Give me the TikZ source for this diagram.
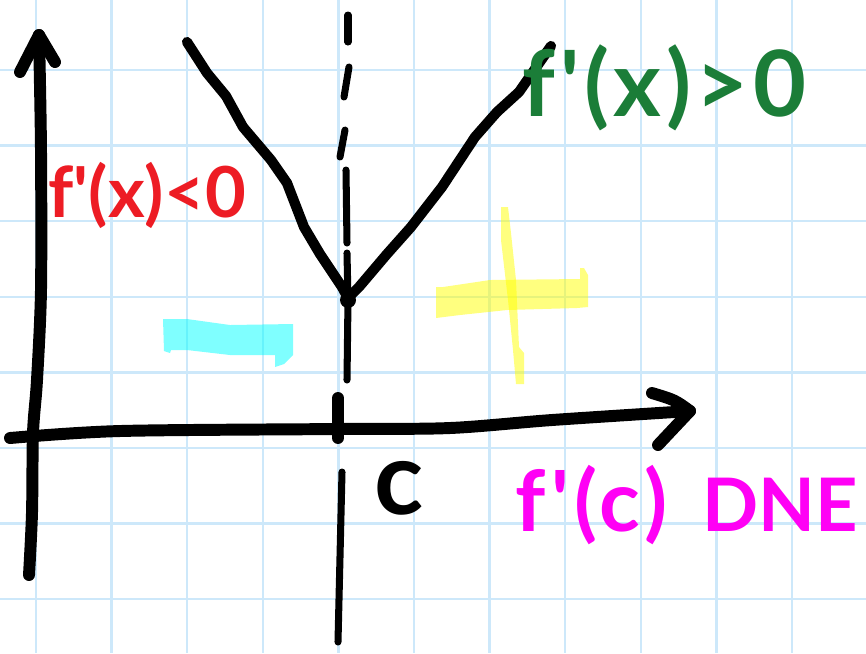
\documentclass[tikz,border=0pt]{standalone}
\usepackage{fontspec}
\usepackage{xcolor}
\usepackage{tikz}
\newfontfamily\handFont{Lato}
\definecolor{gridBlue}{HTML}{CDE8FA}
\definecolor{minusRed}{HTML}{ED1C24}
\definecolor{plusGreen}{HTML}{1B7D38}
\definecolor{dneMagenta}{HTML}{FF00F5}
\definecolor{hiCyan}{HTML}{00FFFF}
\definecolor{hiYellow}{HTML}{FFFF00}

\begin{document}
\begin{tikzpicture}[x=0.01cm, y=-0.01cm,
    gridline/.style={gridBlue, line width=0.7pt},
    pen/.style={line width=2.9pt, line cap=round, line join=round},
    axispen/.style={line width=3.4pt, line cap=round, line join=round},
    thinpen/.style={line width=2pt, line cap=round},
    marker/.style={fill opacity=0.5},
    hand/.style={inner sep=0pt, font=\handFont\bfseries}]
    \useasboundingbox[fill=white] (0,0) rectangle (866,653);
    \foreach \gx in {0,...,11}
        \draw[gridline] ({36+75.6*\gx},0) -- ({36+75.6*\gx},653);
    \foreach \gy in {0,...,7}
        \draw[gridline] (0,{70+75.6*\gy}) -- (866,{70+75.6*\gy});
    \fill[hiCyan, marker] (163,319) -- (187,319) -- (230,325) -- (293,324) -- (293,355)
        -- (284,364) -- (275,367) -- (275,355) -- (230,355) -- (187,350) -- (171,350)
        -- (170,353) -- (164,351) -- cycle;
    \fill[hiYellow, marker] (436,287) -- (443,287) -- (490,280) -- (580,279) -- (580,268)
        -- (584,268) -- (588,275) -- (588,307) -- (577,308) -- (507,310) -- (460,315)
        -- (436,318) -- cycle;
    \fill[hiYellow, marker] (501,207) -- (508,207) -- (511,233) -- (516,280) -- (519,347)
        -- (524,353) -- (524,384) -- (516,384) -- (513,350) -- (508,300) -- (501,240) -- cycle;
    \draw[axispen] plot[smooth, tension=0.5] coordinates
        {(29,575) (32,513) (33,433) (37,380) (41,290) (41,150) (39,35)};
    \draw[axispen] (20,72) -- (39,35) -- (55,62);
    \draw[axispen] plot[smooth, tension=0.5] coordinates
        {(10,438) (120,431) (339,429) (450,428) (552,420) (690,411)};
    \draw[axispen] (652,393) .. controls (675,400) .. (690,411) -- (658,445);
    \draw[pen] (187,42) -- (207,73) -- (226,96) -- (243,127) -- (271,160) -- (287,183)
        -- (304,227) -- (320,254) -- (342,287) -- (348,298);
    \draw[pen] (348,298) -- (359,287) -- (387,254) -- (411,227) -- (442,187) -- (475,137)
        -- (497,112) -- (519,92) -- (551,46);
    \fill (348,300) circle (8);
    \draw[thinpen] (348,15) -- (348,42);
    \draw[thinpen] (349,67) -- (344,97);
    \draw[thinpen] (345,130) -- (340,157);
    \draw[thinpen] (346,170) -- (347,243);
    \draw[thinpen] (347,253) -- (348,300) -- (347,380);
    \draw[axispen] (338,398) -- (338,438);
    \draw[thinpen] (342,472) -- (338,642);
    \node[hand, minusRed, anchor=west, font=\handFont\bfseries\fontsize{20}{20}\selectfont] (fneg) at (48,195) {f'(x)<0};
    \node[hand, plusGreen, anchor=west, font=\handFont\bfseries\fontsize{26}{26}\selectfont\addfontfeatures{LetterSpace=5}] (fpos) at (522,88) {f'(x)>0};
    \node[hand, dneMagenta, anchor=west, font=\handFont\bfseries\fontsize{24}{24}\selectfont] (fdne) at (515,505)
        {{\addfontfeatures{LetterSpace=6}f'(c)}\hspace{10pt}{\fontsize{21}{21}\selectfont DNE}};
    \node[hand, font=\handFont\bfseries\fontsize{29}{29}\selectfont] (cpt) at (399,488) {c};
\end{tikzpicture}
\end{document}
